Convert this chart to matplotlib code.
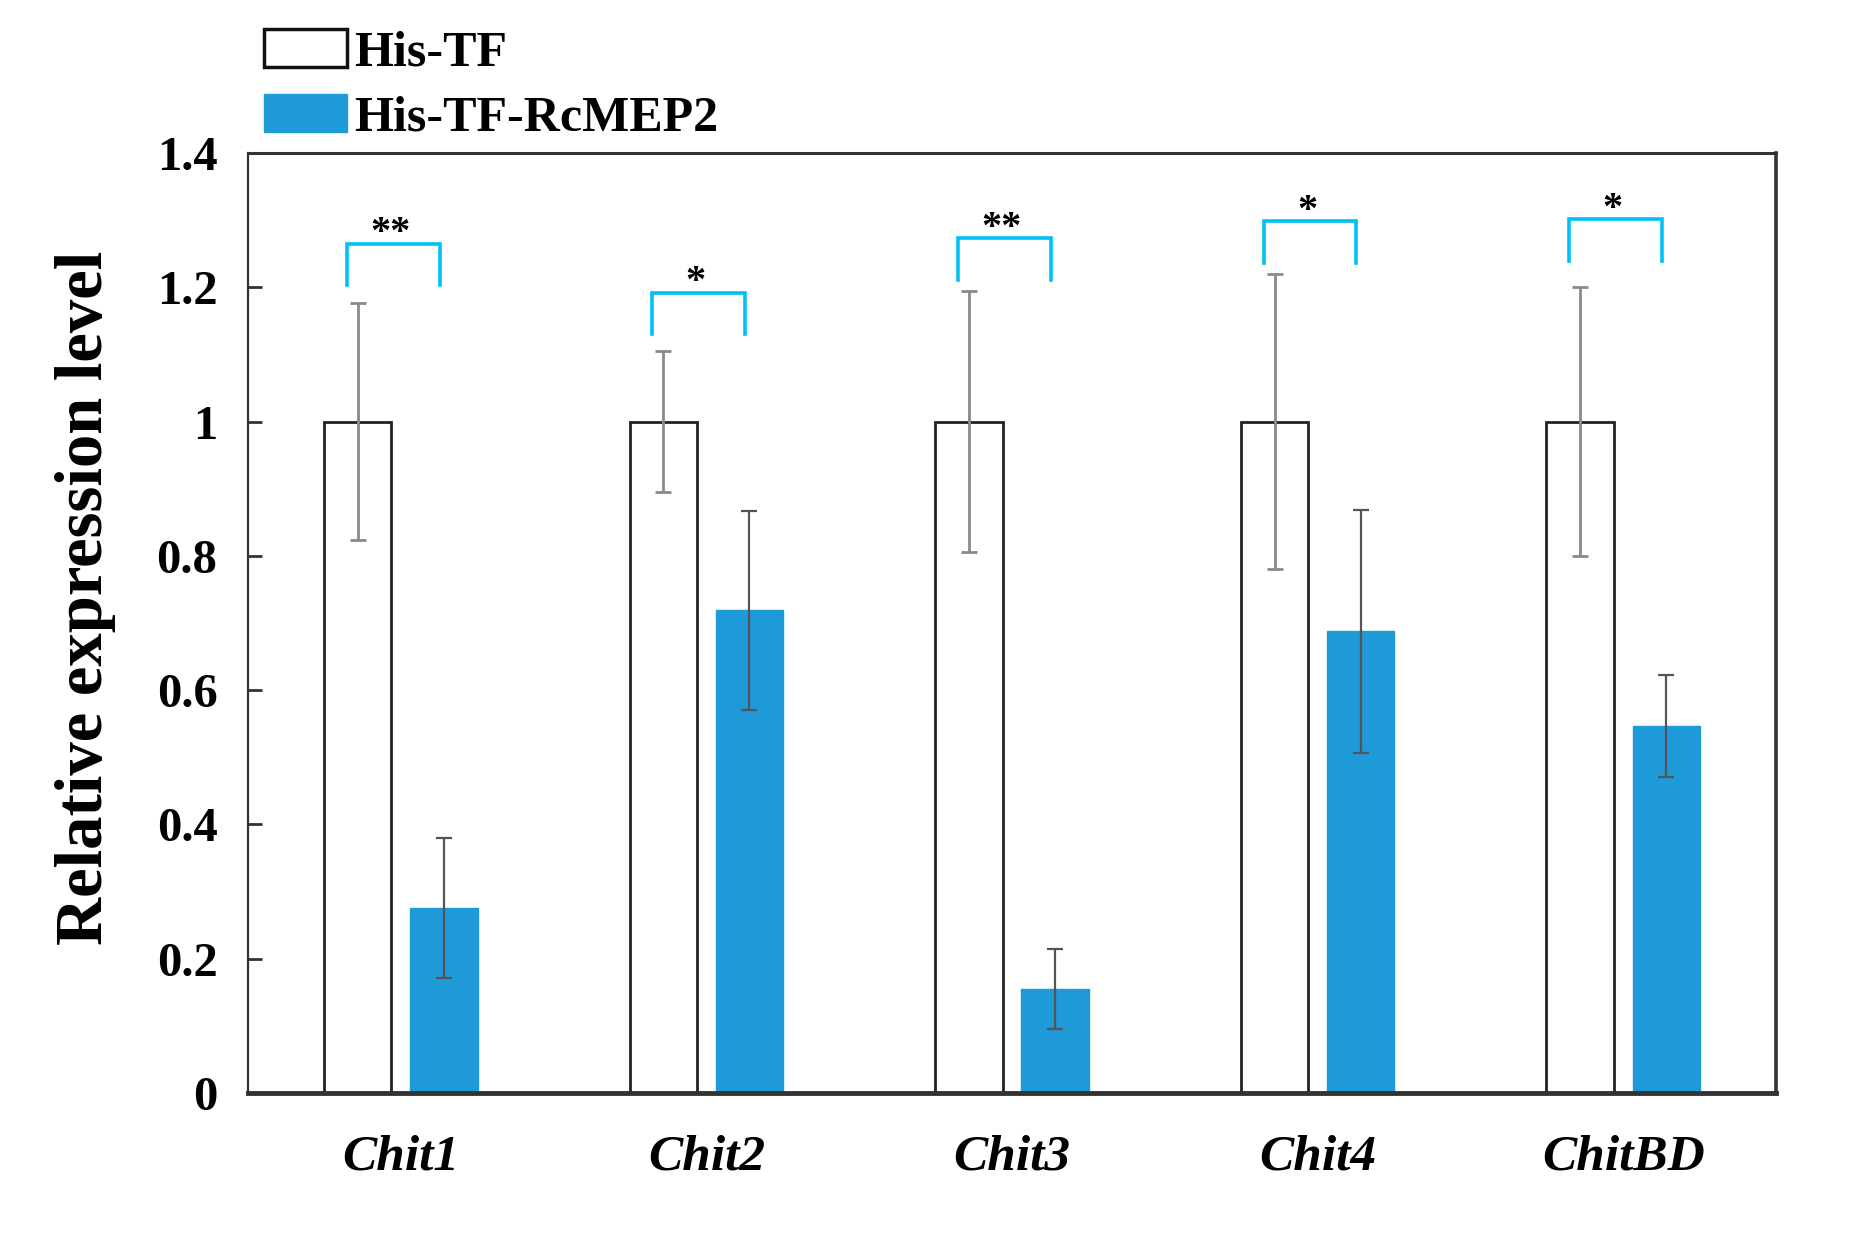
import matplotlib
matplotlib.use("Agg")
import matplotlib.pyplot as plt
from matplotlib.patches import Patch
import numpy as np

categories = ["Chit1", "Chit2", "Chit3", "Chit4", "ChitBD"]
his_tf_mean = [1.0, 1.0, 1.0, 1.0, 1.0]
his_tf_err = [0.177, 0.105, 0.194, 0.220, 0.200]
rcmep2_mean = [0.276, 0.719, 0.155, 0.688, 0.547]
rcmep2_err = [0.104, 0.148, 0.059, 0.181, 0.076]
sig_labels = ["**", "*", "**", "*", "*"]
bracket_top = [1.265, 1.192, 1.273, 1.298, 1.301]
yticks = [0, 0.2, 0.4, 0.6, 0.8, 1, 1.2, 1.4]
ytick_labels = ["0", "0.2", "0.4", "0.6", "0.8", "1", "1.2", "1.4"]

plt.rcParams['font.family'] = ['Liberation Serif', 'DejaVu Serif']

W, H = 1851, 1236
fig = plt.figure(figsize=(W/100, H/100), dpi=100)
L, R, T, B = 248, 1776, 153, 1093
ax = fig.add_axes([L/W, 1-B/H, (R-L)/W, (B-T)/H])

x = np.arange(len(categories))
w = 0.22
off = 0.141
blue = '#1e9ad8'

ax.bar(x - off, his_tf_mean, width=w, color='white', edgecolor='#222222', linewidth=2, zorder=2)
ax.bar(x + off, rcmep2_mean, width=w, color=blue, edgecolor=blue, linewidth=1, zorder=2)
ax.errorbar(x - off, his_tf_mean, yerr=his_tf_err, fmt='none', ecolor='#8a8a8a',
            elinewidth=2, capsize=6, capthick=2, zorder=3)
ax.errorbar(x + off, rcmep2_mean, yerr=rcmep2_err, fmt='none', ecolor='#555555',
            elinewidth=1.6, capsize=6, capthick=1.6, zorder=3)

leg_h = 0.062
for i, (top, lab) in enumerate(zip(bracket_top, sig_labels)):
    xl = x[i] - 0.177
    xr = x[i] + 0.127
    ax.plot([xl, xl, xr, xr], [top - leg_h, top, top, top - leg_h], color='#00c0f5',
            lw=2.6, solid_joinstyle='miter', zorder=4)
    ax.text((xl + xr) / 2 - 0.01, top + 0.001, lab, ha='center', va='baseline', fontsize=29,
            fontweight='bold', color='black')

ax.set_xlim(-0.5, len(categories) - 0.5)
ax.set_ylim(0, 1.4)
ax.set_yticks(yticks)
ax.set_yticklabels(ytick_labels, fontsize=35, fontweight='bold')
ax.tick_params(axis='y', direction='in', length=10, width=2, color='#333333', pad=22)
ax.set_xticks(x)
ax.set_xticklabels(categories, fontsize=37, fontweight='bold', fontstyle='italic')
ax.tick_params(axis='x', length=0, pad=30)

for side, lw in [('left', 1.6), ('top', 2.2), ('right', 2.6), ('bottom', 3.5)]:
    ax.spines[side].set_linewidth(lw)
    ax.spines[side].set_color('#333333')
    ax.spines[side].set_zorder(5)

fig.text(86/W, 1-598/H, "Relative expression level", rotation=90, ha='center',
         va='center', fontsize=48, fontweight='bold')

handles = [Patch(facecolor='white', edgecolor='#111111', linewidth=2.5),
           Patch(facecolor=blue, edgecolor=blue)]
fig.legend(handles, ["His-TF", "His-TF-RcMEP2"], loc='upper left',
           bbox_to_anchor=(264/W, 1-29/H), frameon=False,
           prop={'family': 'Liberation Serif', 'weight': 'bold', 'size': 36},
           handlelength=1.65, handleheight=0.8, handletextpad=0.15,
           labelspacing=0.35, borderpad=0, borderaxespad=0)

fig.savefig("out.png", dpi=100)
